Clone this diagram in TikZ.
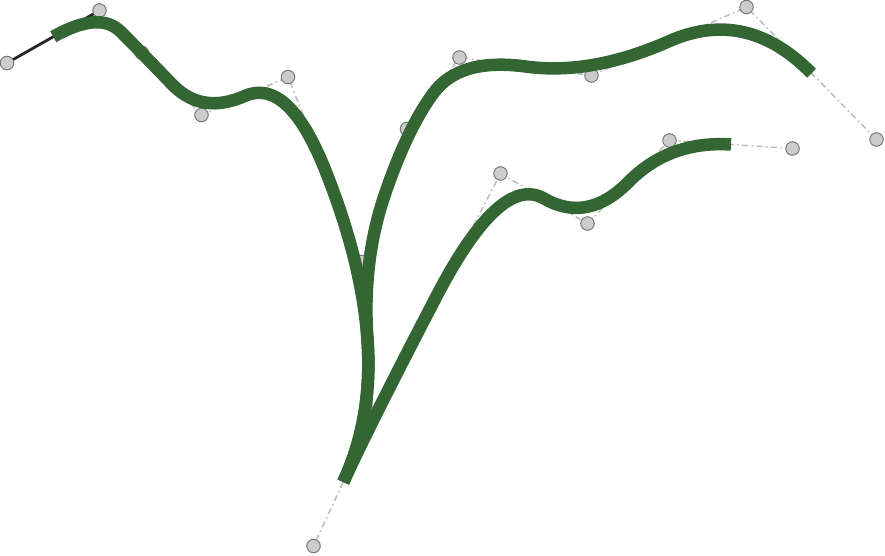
\documentclass[tikz,border=0pt]{standalone}
\usetikzlibrary{calc}
\definecolor{leaf}{HTML}{336633}
\definecolor{ctrlgray}{HTML}{BBBBBB}
\definecolor{ptfill}{HTML}{CCCCCC}
\definecolor{ptdraw}{HTML}{777777}
\tikzset{
  polyline/.style={draw=ctrlgray, line width=1.5pt, dash pattern=on 6pt off 3.5pt on 1.5pt off 3.5pt},
  handle/.style={draw=black!85, line width=2.8pt},
  ctrlpt/.style={circle, fill=ptfill, draw=ptdraw, line width=1pt, minimum size=13.5pt, inner sep=0pt},
  stem/.style={draw=leaf, line width=12.5pt, line cap=butt}
}
% quadratic segment from #1 with control #2 to #3, as a cubic
\newcommand{\qto}[3]{.. controls ($(#1)!2/3!(#2)$) and ($(#3)!2/3!(#2)$) .. (#3)}
\begin{document}
\begin{tikzpicture}[x=1pt,y=-1pt]
\useasboundingbox (0,0) rectangle (885,555);
% control points
\coordinate (A) at (7,63);
\coordinate (B) at (99.5,10.5);
\coordinate (C) at (142,53);
\coordinate (D) at (201.5,115);
\coordinate (E) at (288,77);
\coordinate (F) at (362,262);
\coordinate (Q) at (373,418);
\coordinate (L) at (313.5,546);
\coordinate (G) at (407,129);
\coordinate (H) at (459.5,57.5);
\coordinate (I) at (591.5,75.5);
\coordinate (J) at (746.5,7);
\coordinate (K) at (876.5,139.5);
\coordinate (M) at (500.5,173.5);
\coordinate (N) at (587.5,223.5);
\coordinate (O) at (669.5,140.5);
\coordinate (P) at (792.5,148.5);
% on-curve points
\foreach \a/\b in {A/B,B/C,C/D,D/E,E/F,F/Q,Q/L,F/G,G/H,H/I,I/J,J/K,Q/M,M/N,N/O,O/P}
  \coordinate (m\a\b) at ($(\a)!0.5!(\b)$);
% control polygons
\draw[handle] (A) -- (B);
\draw[polyline] (B) -- (C) -- (D) -- (E) -- (F) -- (Q) -- (L);
\draw[polyline] (F) -- (G) -- (H) -- (I) -- (J) -- (K);
\draw[polyline] (Q) -- (M) -- (N) -- (O) -- (P);
% control point markers
\foreach \p in {A,B,C,D,E,F,G,H,I,J,K,L,M,N,O,P}
  \node[ctrlpt] (n\p) at (\p) {};
% curves
\draw[stem] (mAB) \qto{mAB}{B}{mBC} \qto{mBC}{C}{mCD} \qto{mCD}{D}{mDE}
  \qto{mDE}{E}{mEF} \qto{mEF}{F}{mFQ} \qto{mFQ}{Q}{mQL};
\draw[stem] (mQL) \qto{mQL}{Q}{mFQ} \qto{mFQ}{F}{mFG} \qto{mFG}{G}{mGH}
  \qto{mGH}{H}{mHI} \qto{mHI}{I}{mIJ} \qto{mIJ}{J}{mJK};
\draw[stem] (mQL) \qto{mQL}{Q}{mQM} \qto{mQM}{M}{mMN} \qto{mMN}{N}{mNO}
  \qto{mNO}{O}{mOP};
\end{tikzpicture}
\end{document}
